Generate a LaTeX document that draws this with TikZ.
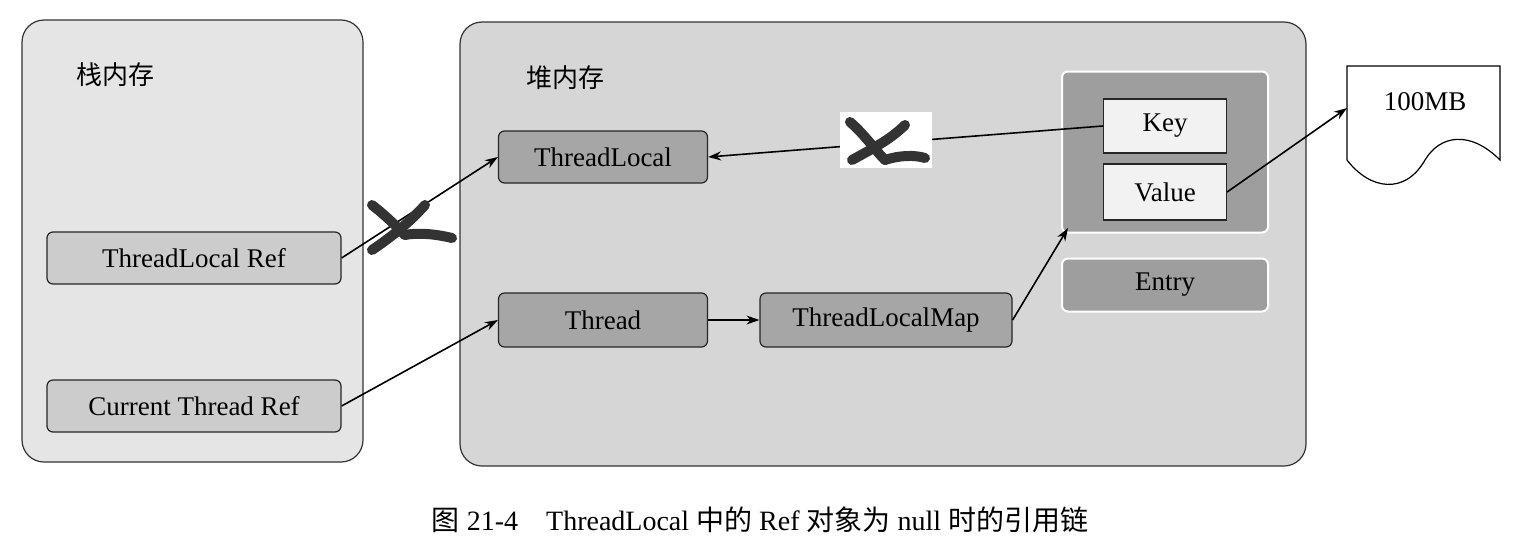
\documentclass[tikz,border=0pt]{standalone}
\usepackage{fontspec}
\setmainfont{Liberation Serif}
\newfontfamily\cjk{Noto Sans CJK SC}
\usetikzlibrary{arrows.meta}
\begin{document}
\begin{tikzpicture}[x=1pt,y=-1pt,
  panel/.style={draw=black!80,line width=1.2pt,rounded corners=22pt},
  box/.style={draw=black!85,line width=1.2pt,rounded corners=6pt,font=\fontsize{27}{29}\selectfont},
  wbox/.style={draw=black!85,line width=1.2pt,fill=black!5,font=\fontsize{27}{29}\selectfont},
  arr/.style={-{Stealth[length=13pt,width=9pt]},line width=1.6pt},
  xmark/.style={line width=10pt,line cap=round,black!80}]
\useasboundingbox (0,0) rectangle (1520,554);
\fill[white] (0,0) rectangle (1520,554);
\draw[panel,fill=black!10] (22,20) rectangle (363,462);
\draw[panel,fill=black!16] (460,22) rectangle (1306,466);
\node[font=\cjk\fontsize{26}{28}\selectfont] at (115,75) {栈内存};
\node[font=\cjk\fontsize{26}{28}\selectfont] at (565,78) {堆内存};
\node[box,fill=black!20,minimum width=294pt,minimum height=52pt] (tlr) at (194,258) {ThreadLocal Ref};
\node[box,fill=black!20,minimum width=294pt,minimum height=52pt] (ctr) at (194,406) {Current Thread Ref};
\node[box,fill=black!35,minimum width=209pt,minimum height=52pt] (tl) at (603,157) {ThreadLocal};
\node[box,fill=black!35,minimum width=209pt,minimum height=54pt] (th) at (603,320) {Thread};
\node[box,fill=black!35,minimum width=252pt,minimum height=54pt] (tlm) at (886,320) {ThreadLocalMap};
\node[draw=white,line width=2pt,rounded corners=6pt,fill=black!38,minimum width=206pt,minimum height=161pt] (grp) at (1165,152) {};
\node[wbox,minimum width=123pt,minimum height=54pt] (key) at (1165,126) {Key};
\node[wbox,minimum width=123pt,minimum height=56pt] (val) at (1165,192) {Value};
\node[draw=white,line width=2pt,rounded corners=6pt,fill=black!38,minimum width=206pt,minimum height=53pt,font=\fontsize{27}{29}\selectfont] (ent) at (1165,285) {Entry};
\draw[line width=1.2pt,fill=white] (1347,66) -- (1500,66) -- (1500,160) .. controls (1470,130) and (1440,135) .. (1425,160) .. controls (1405,195) and (1370,190) .. (1347,160) -- cycle;
\node[font=\fontsize{27}{29}\selectfont] (mb) at (1425,102) {100MB};
\coordinate (mbl) at (1347,108);
\coordinate (gbl) at (1068,228);
\draw[arr] (tlr.east) -- (tl.west);
\draw[arr] (ctr.east) -- (th.west);
\draw[arr] (th.east) -- (tlm.west);
\draw[arr] (tlm.east) -- (gbl);
\draw[arr] (key.west) -- (tl.east);
\draw[arr] (val.east) -- (mbl);
% X marks
\fill[white] (840,112) rectangle (932,168);
\draw[xmark] (850,122) .. controls (865,135) and (875,150) .. (885,160);
\draw[xmark] (885,160) .. controls (900,155) and (915,155) .. (925,158);
\draw[xmark] (905,125) .. controls (890,140) and (870,150) .. (852,160);
\draw[xmark] (372,205) .. controls (385,215) and (395,225) .. (405,235);
\draw[xmark] (405,235) .. controls (420,232) and (440,235) .. (452,238);
\draw[xmark] (425,205) .. controls (410,222) and (390,238) .. (372,250);
\node[font=\fontsize{28}{30}\selectfont] (cap) at (760,520) {{\cjk 图} 21-4\quad ThreadLocal {\cjk 中的} Ref {\cjk 对象为} null {\cjk 时的引用链}};
\end{tikzpicture}
\end{document}
